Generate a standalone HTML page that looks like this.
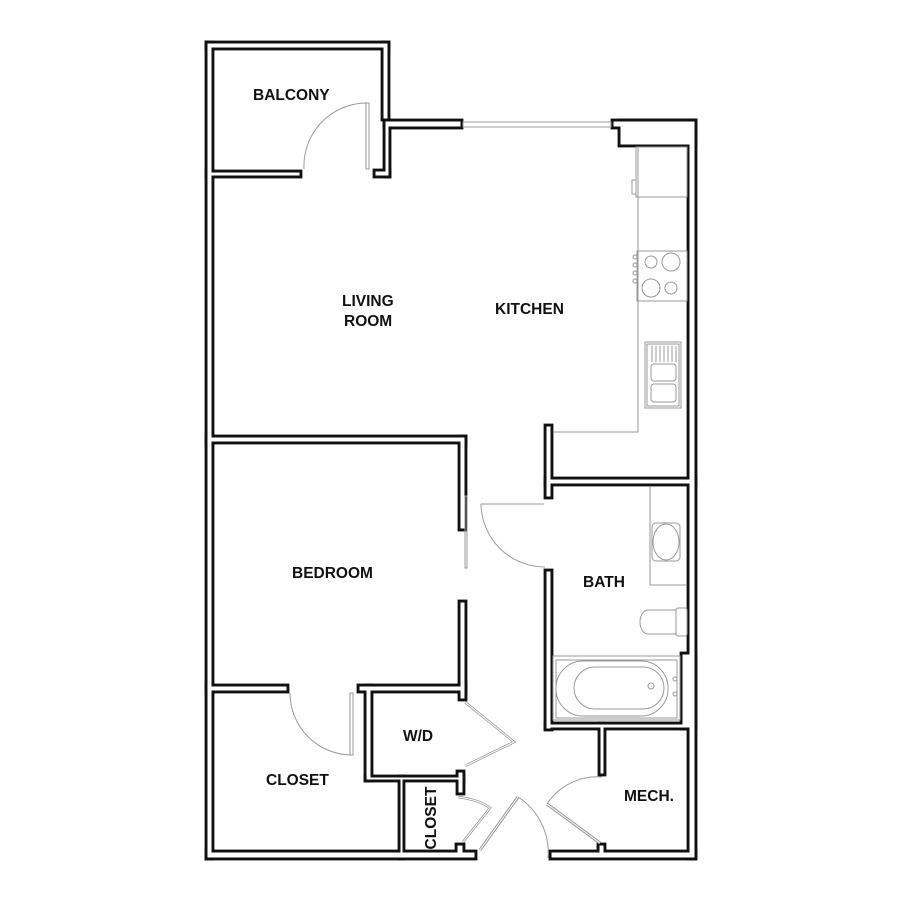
<!DOCTYPE html>
<html><head><meta charset="utf-8"><style>
html,body{margin:0;padding:0;background:#fff;width:900px;height:900px;overflow:hidden}
svg{display:block}
text{font-family:"Liberation Sans",Arial,sans-serif;font-weight:bold;fill:#111;font-size:15.5px}
</style></head><body>
<svg width="900" height="900" viewBox="0 0 900 900" xmlns="http://www.w3.org/2000/svg">
<defs>
<g id="walls">
 <rect x="205" y="41" width="9" height="819"/>
 <rect x="205" y="41" width="185" height="9"/>
 <rect x="381" y="41" width="9" height="80"/>
 <rect x="205" y="170" width="97" height="8"/>
 <rect x="383" y="119" width="80" height="10"/>
 <rect x="383" y="119" width="8" height="59"/>
 <rect x="373" y="169" width="18" height="9"/>
 <rect x="611" y="119" width="86" height="10"/>
 <rect x="618" y="119" width="79" height="28"/>
 <rect x="687" y="119" width="10" height="741"/>
 <rect x="205" y="850" width="272" height="10"/>
 <rect x="549" y="850" width="148" height="10"/>
 <rect x="205" y="435" width="262" height="9"/>
 <rect x="458" y="435" width="9" height="96"/>
 <rect x="458" y="600" width="9" height="101"/>
 <rect x="205" y="684" width="84" height="9"/>
 <rect x="357" y="684" width="110" height="9"/>
 <rect x="364" y="684" width="9" height="98"/>
 <rect x="364" y="775" width="101" height="7"/>
 <rect x="456" y="770" width="9" height="25"/>
 <rect x="398" y="775" width="7" height="85"/>
 <rect x="455" y="843" width="10" height="10"/>
 <rect x="544" y="424" width="9" height="75"/>
 <rect x="544" y="477" width="153" height="9"/>
 <rect x="544" y="569" width="9" height="162"/>
 <rect x="544" y="722" width="153" height="8"/>
 <rect x="680" y="652" width="17" height="78"/>
 <rect x="598" y="722" width="8" height="54"/>
 <rect x="597" y="843" width="9" height="10"/>
</g>
</defs>
<g fill="#111" stroke="#111" stroke-width="0.8"><use href="#walls"/></g>
<g fill="#fff" stroke="none">
 <rect x="207.5" y="43.5" width="4" height="814"/>
 <rect x="207.5" y="43.5" width="180" height="4"/>
 <rect x="383.5" y="43.5" width="4" height="75"/>
 <rect x="207.5" y="172.5" width="92" height="3"/>
 <rect x="385.5" y="121.5" width="75" height="5"/>
 <rect x="385.5" y="121.5" width="3" height="54"/>
 <rect x="375.5" y="171.5" width="13" height="4"/>
 <rect x="613.5" y="121.5" width="81" height="5"/>
 <rect x="620.5" y="121.5" width="74" height="23"/>
 <rect x="689.5" y="121.5" width="5" height="736"/>
 <rect x="207.5" y="852.5" width="267" height="5"/>
 <rect x="551.5" y="852.5" width="143" height="5"/>
 <rect x="207.5" y="437.5" width="257" height="4"/>
 <rect x="460.5" y="437.5" width="4" height="91"/>
 <rect x="460.5" y="602.5" width="4" height="96"/>
 <rect x="207.5" y="686.5" width="79" height="4"/>
 <rect x="359.5" y="686.5" width="105" height="4"/>
 <rect x="366.5" y="686.5" width="4" height="93"/>
 <rect x="366.5" y="777.5" width="96" height="2"/>
 <rect x="458.5" y="772.5" width="4" height="20"/>
 <rect x="400.5" y="777.5" width="2" height="80"/>
 <rect x="457.5" y="845.5" width="5" height="10"/>
 <rect x="546.5" y="426.5" width="4" height="70"/>
 <rect x="546.5" y="479.5" width="148" height="4"/>
 <rect x="546.5" y="571.5" width="4" height="157"/>
 <rect x="546.5" y="724.5" width="148" height="3"/>
 <rect x="682.5" y="654.5" width="12" height="73"/>
 <rect x="600.5" y="724.5" width="3" height="49"/>
 <rect x="599.5" y="845.5" width="4" height="10"/>
</g>
<g fill="none" stroke="#999" stroke-width="1">
 <rect x="463" y="122" width="148" height="5"/>
 <rect x="366" y="103" width="3" height="66"/>
 <path d="M304 169 A63 63 0 0 1 367 103"/>
 <rect x="465" y="496" width="2" height="72"/>
 <path d="M481 504 H544 M481 504 A64 64 0 0 0 545 567"/>
 <rect x="350" y="693" width="3" height="62"/>
 <path d="M290 693 A62 62 0 0 0 352 755"/>
 <path d="M465 702 L514 742 L465 766" stroke-width="2.5"/>
 <path d="M465 702 L514 742 L465 766" stroke="#fff" stroke-width="1"/>
 <path d="M458 797 Q480 800 490 808 L463 842" stroke-width="2.5"/>
 <path d="M458 797 Q480 800 490 808 L463 842" stroke="#fff" stroke-width="1"/>
 <path d="M480 850 L518 797" stroke-width="3"/>
 <path d="M480 850 L518 797" stroke="#fff" stroke-width="1"/>
 <path d="M518 797 A66 66 0 0 1 548 858"/>
 <path d="M600 843 L547 804" stroke-width="3"/>
 <path d="M600 843 L547 804" stroke="#fff" stroke-width="1"/>
 <path d="M547 804 A60 60 0 0 1 602 777"/>
 <path d="M638 147 V432 H553"/>
 <rect x="636" y="147" width="51" height="50"/>
 <rect x="632" y="180" width="4" height="14"/>
 <rect x="637" y="251" width="50" height="50"/>
 <circle cx="651" cy="262" r="6"/><circle cx="671" cy="262" r="9"/>
 <circle cx="651" cy="288" r="9"/><circle cx="671" cy="288" r="6"/>
 <circle cx="635" cy="257" r="2"/><circle cx="635" cy="265" r="2"/><circle cx="635" cy="273" r="2"/><circle cx="635" cy="281" r="2"/>
 <rect x="645" y="342" width="36" height="66"/>
 <rect x="647" y="344" width="32" height="62"/>
 <path d="M652 346 V362 M656 346 V362 M660 346 V362 M664 346 V362 M668 346 V362 M672 346 V362 M676 346 V362"/>
 <rect x="651" y="364" width="25" height="17" rx="3"/>
 <rect x="651" y="384" width="25" height="18" rx="3"/>
 <path d="M650 486 V585 H687"/>
 <rect x="652" y="523" width="28" height="38" rx="4"/>
 <ellipse cx="666" cy="542" rx="13" ry="18"/>
 <rect x="676" y="608" width="11" height="28" rx="2"/>
 <path d="M676 610 H648 A8 12 0 0 0 648 634 H676"/>
 <rect x="553" y="656" width="127" height="64"/>
 <rect x="556" y="660" width="121" height="58"/>
 <rect x="556" y="661" width="112" height="55" rx="27"/>
 <rect x="574" y="667" width="90" height="42" rx="21"/>
 <circle cx="651" cy="686" r="3"/><circle cx="675" cy="679" r="2"/><circle cx="675" cy="694" r="2"/>
</g>
<text x="253" y="100">BALCONY</text>
<text x="342" y="306">LIVING</text>
<text x="344" y="326">ROOM</text>
<text x="495" y="314">KITCHEN</text>
<text x="292" y="578">BEDROOM</text>
<text x="583" y="587">BATH</text>
<text x="403" y="741" font-size="14.5">W/D</text>
<text x="266" y="785" font-size="14.5">CLOSET</text>
<text x="624" y="801" font-size="14.5">MECH.</text>
<text transform="translate(436,818) rotate(-90)" text-anchor="middle" font-size="14.5">CLOSET</text>
</svg>
</body></html>
